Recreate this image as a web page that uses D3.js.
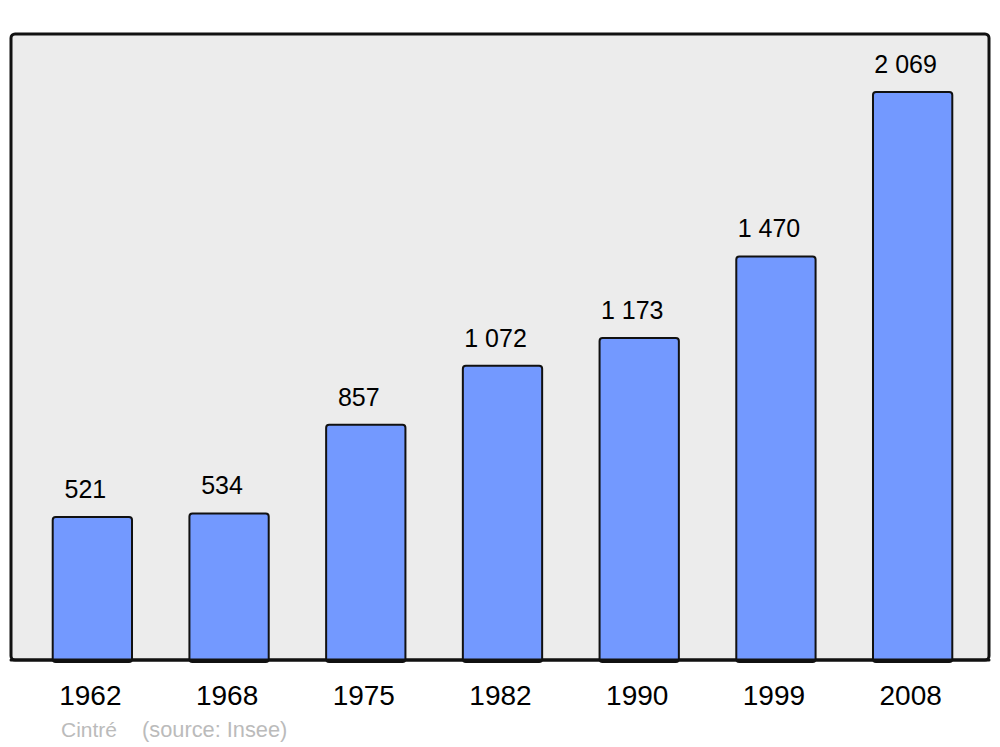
<!DOCTYPE html>
<html><head><meta charset="utf-8">
<script src="https://cdn.jsdelivr.net/npm/d3@7"></script>
<style>body{margin:0;background:#fff}svg{display:block}</style>
</head><body>
<script>
const years = ["1962","1968","1975","1982","1990","1999","2008"];
const population = [521, 534, 857, 1072, 1173, 1470, 2069];
const valueLabels = ["521","534","857","1 072","1 173","1 470","2 069"];
const commune = "Cintré";
const sourceText = "(source: Insee)";

const W = 1000, H = 747;
const svg = d3.select("body").append("svg").attr("width", W).attr("height", H);
const frame = {x0: 11, x1: 989, y0: 34, y1: 660};

svg.append("rect").attr("x", frame.x0).attr("y", frame.y0)
  .attr("width", frame.x1 - frame.x0).attr("height", frame.y1 - frame.y0)
  .attr("rx", 4).attr("fill", "#ececec").attr("stroke", "#111").attr("stroke-width", 3);

const x = d3.scaleBand().domain(years).range([24, 981]).paddingInner(0.42).paddingOuter(0.21);
const y = d3.scaleLinear().domain([0, 2280]).range([frame.y1, frame.y0]);

const g = svg.append("g");
g.selectAll("rect.bar").data(years).join("rect").attr("class", "bar")
  .attr("x", d => x(d)).attr("width", x.bandwidth())
  .attr("y", (d, i) => y(population[i])).attr("height", (d, i) => y(0) - y(population[i]) + 2)
  .attr("rx", 3).attr("fill", "#7399ff").attr("stroke", "#111").attr("stroke-width", 2);

svg.append("line").attr("x1", frame.x0).attr("x2", frame.x1).attr("y1", frame.y1).attr("y2", frame.y1)
  .attr("stroke", "#111").attr("stroke-width", 3).attr("stroke-linecap", "round");

g.selectAll("text.val").data(years).join("text").attr("class", "val")
  .attr("x", d => x(d) + x.bandwidth() / 2 - 7)
  .attr("y", (d, i) => y(population[i]) - 19)
  .attr("text-anchor", "middle").attr("font-family", "Liberation Sans, Arial, sans-serif")
  .attr("font-size", 25).attr("fill", "#000").text((d, i) => valueLabels[i]);

g.selectAll("text.year").data(years).join("text").attr("class", "year")
  .attr("x", d => x(d) + x.bandwidth() / 2 - 2)
  .attr("y", 705)
  .attr("text-anchor", "middle").attr("font-family", "Liberation Sans, Arial, sans-serif")
  .attr("font-size", 28).attr("fill", "#000").text(d => d);

svg.append("text").attr("x", 61).attr("y", 737).attr("font-family", "Liberation Sans, Arial, sans-serif")
  .attr("font-size", 21).attr("fill", "#bbb").text(commune);
svg.append("text").attr("x", 142).attr("y", 737).attr("font-family", "Liberation Sans, Arial, sans-serif")
  .attr("font-size", 21.8).attr("fill", "#bbb").text(sourceText);
</script>
</body></html>
